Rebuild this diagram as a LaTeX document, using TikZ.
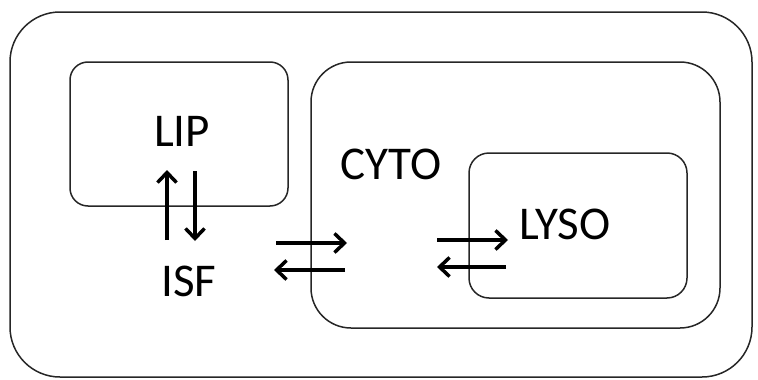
\documentclass[tikz,border=0pt]{standalone}
\usepackage{fontspec}
\setmainfont{Carlito}
\usetikzlibrary{arrows.meta}
\begin{document}
\begin{tikzpicture}[x=1pt,y=-1pt,
  box/.style={draw=black!85,line width=1.5pt},
  lbl/.style={font=\fontsize{47}{50}\selectfont,inner sep=0pt},
  flow/.style={line width=4pt,-{Straight Barb[length=10pt,width=19pt,line width=3.5pt]}}]
\useasboundingbox (0,0) rectangle (758,380);
\draw[box,rounded corners=50pt] (10,12) rectangle (752,377);
\draw[box,rounded corners=18pt] (70,62) rectangle (288,206);
\draw[box,rounded corners=40pt] (311,62) rectangle (720,328);
\draw[box,rounded corners=20pt] (469,153) rectangle (687,298);
\node[lbl] (lip) at (182,131) {LIP};
\node[lbl] (cyto) at (391,164) {CYTO};
\node[lbl] (lyso) at (565,224) {LYSO};
\node[lbl] (isf) at (189,281) {ISF};
\coordinate (a1s) at (167,240); \coordinate (a1e) at (167,170);
\coordinate (a2s) at (195,171); \coordinate (a2e) at (195,241);
\coordinate (a3s) at (276,243); \coordinate (a3e) at (347,243);
\coordinate (a4s) at (345,270); \coordinate (a4e) at (274,270);
\coordinate (a5s) at (437,240); \coordinate (a5e) at (508,240);
\coordinate (a6s) at (506,267); \coordinate (a6e) at (437,267);
\draw[flow] (a1s) -- (a1e);
\draw[flow] (a2s) -- (a2e);
\draw[flow] (a3s) -- (a3e);
\draw[flow] (a4s) -- (a4e);
\draw[flow] (a5s) -- (a5e);
\draw[flow] (a6s) -- (a6e);
\end{tikzpicture}
\end{document}
